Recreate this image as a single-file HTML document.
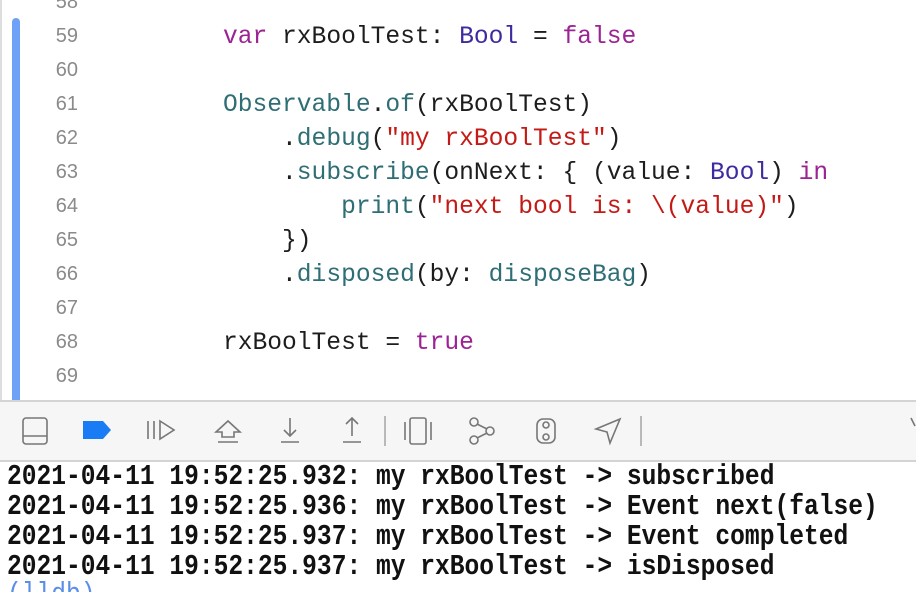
<!DOCTYPE html>
<html><head><style>
html,body{margin:0;width:916px;height:592px;overflow:hidden}
body{background:#fff;position:relative;font-family:"Liberation Mono",monospace}
.ln{position:absolute;left:30px;width:48px;text-align:right;font-family:"Liberation Sans",sans-serif;font-size:20px;color:#8a8a8a}
.c{position:absolute;left:223px;font-size:24.6px;color:#1d1d1d;white-space:pre}
.k{color:#9b2393}.t{color:#3f2aa0}.f{color:#2e6e74}.s{color:#c41a16}
.o{position:absolute;left:7px;font-size:24.6px;font-weight:bold;color:#111;white-space:pre;transform:scaleY(1.15)}
</style></head><body>
<div style="position:absolute;left:0;top:0;width:2px;height:400px;background:#ddd"></div>
<div style="position:absolute;left:12px;top:18px;width:8px;height:382px;background:#6ea2f7;border-radius:4px 4px 0 0"></div>
<div class="ln" style="top:-9px">58</div>
<div class="ln" style="top:25px">59</div>
<div class="ln" style="top:59px">60</div>
<div class="ln" style="top:93px">61</div>
<div class="ln" style="top:127px">62</div>
<div class="ln" style="top:161px">63</div>
<div class="ln" style="top:195px">64</div>
<div class="ln" style="top:229px">65</div>
<div class="ln" style="top:263px">66</div>
<div class="ln" style="top:297px">67</div>
<div class="ln" style="top:331px">68</div>
<div class="ln" style="top:365px">69</div>
<div class="c" style="top:24px"><span class="k">var</span> rxBoolTest: <span class="t">Bool</span> = <span class="k">false</span></div>
<div class="c" style="top:92px"><span class="f">Observable</span>.<span class="f">of</span>(rxBoolTest)</div>
<div class="c" style="top:126px">    .<span class="f">debug</span>(<span class="s">"my rxBoolTest"</span>)</div>
<div class="c" style="top:160px">    .<span class="f">subscribe</span>(onNext: { (value: <span class="t">Bool</span>) <span class="k">in</span></div>
<div class="c" style="top:194px">        <span class="f">print</span>(<span class="s">"next bool is: \(value)"</span>)</div>
<div class="c" style="top:228px">    })</div>
<div class="c" style="top:262px">    .<span class="f">disposed</span>(by: <span class="f">disposeBag</span>)</div>
<div class="c" style="top:330px">rxBoolTest = <span class="k">true</span></div>
<div style="position:absolute;left:0;top:400px;width:916px;height:58px;background:#f6f6f6;border-top:2px solid #d4d4d4;border-bottom:2px solid #d4d4d4"></div>
<svg style="position:absolute;left:0;top:402px" width="916" height="56" fill="none" stroke="#777" stroke-width="1.6">
<rect x="23" y="16" width="24" height="26" rx="3"/><line x1="23" y1="34" x2="47" y2="34"/>
<path d="M83 19h20l8 9-8 9h-20z" fill="#1a7cf5" stroke="none"/>
<path d="M148 19v18M154 19v18M160 19l14 9-14 9z"/>
<path d="M216 30l12-11 12 11h-6v5h-12v-5zM218 40h20"/>
<path d="M290 16v18M284 28l6 6 6-6M281 40h18"/>
<path d="M352 34v-18M346 22l6-6 6 6M343 40h18"/>
<line x1="385" y1="14" x2="385" y2="44" stroke="#aaa"/>
<rect x="410" y="16" width="16" height="26" rx="2"/><path d="M405 20v18M431 20v18"/>
<circle cx="474" cy="20" r="4"/><circle cx="474" cy="38" r="4"/><circle cx="490" cy="29" r="4"/><path d="M477 22l10 5M477 36l10-5"/>
<rect x="537" y="17" width="18" height="24" rx="6"/><circle cx="546" cy="23" r="3"/><circle cx="546" cy="35" r="3"/>
<path d="M620 17l-24 10 11 3 3 11z"/>
<line x1="641" y1="14" x2="641" y2="44" stroke="#aaa"/>
<path d="M911 16l4 8"/>
</svg>
<div class="o" style="top:464px">2021-04-11 19:52:25.932: my rxBoolTest -> subscribed</div>
<div class="o" style="top:494px">2021-04-11 19:52:25.936: my rxBoolTest -> Event next(false)</div>
<div class="o" style="top:524px">2021-04-11 19:52:25.937: my rxBoolTest -> Event completed</div>
<div class="o" style="top:554px">2021-04-11 19:52:25.937: my rxBoolTest -> isDisposed</div>
<div class="o" style="top:582px;color:#5b8ee8;font-weight:normal">(lldb)</div>
</body></html>
